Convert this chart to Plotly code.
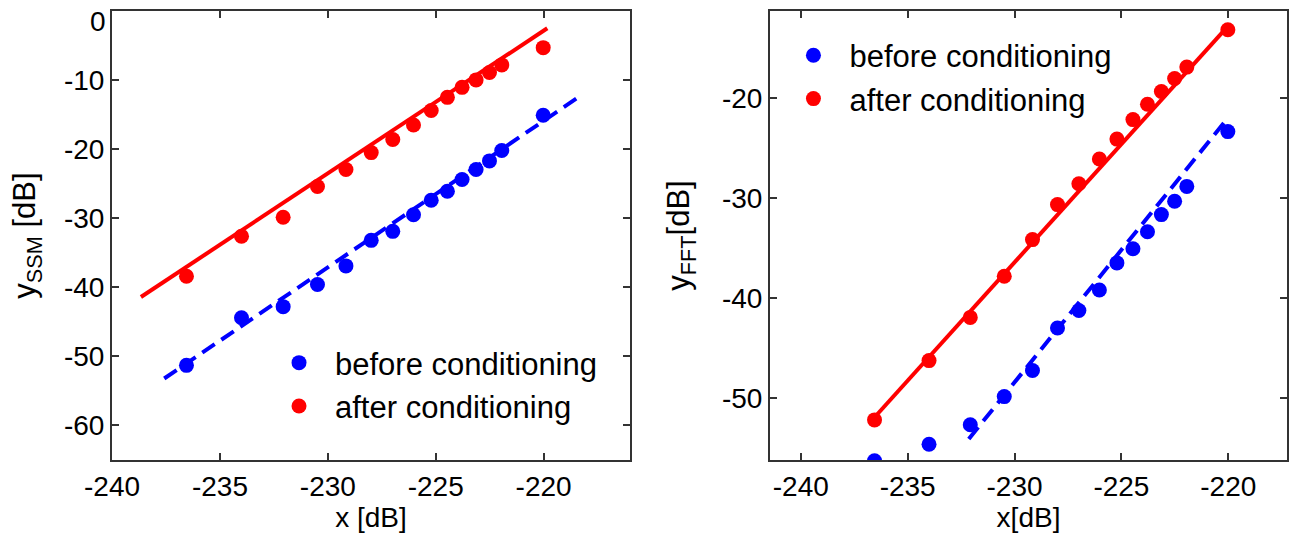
import plotly.graph_objects as go

# ---- data ----
x_db = [-236.55, -234.0, -232.07, -230.48, -229.16, -227.99, -226.99, -226.03,
        -225.21, -224.46, -223.78, -223.13, -222.51, -221.94, -220.02]

ssm_before = [-51.3, -44.4, -42.8, -39.6, -36.9, -33.2, -31.9, -29.5,
              -27.4, -26.1, -24.4, -22.95, -21.7, -20.2, -15.1]
ssm_after = [-38.4, -32.6, -29.85, -25.4, -22.95, -20.5, -18.6, -16.5,
             -14.4, -12.5, -11.05, -9.97, -8.9, -7.8, -5.3]

fft_before = [-56.27, -54.62, -52.67, -49.86, -47.25, -43.0, -41.25, -39.2,
              -36.49, -35.08, -33.37, -31.66, -30.32, -28.84, -23.36]
fft_after = [-52.19, -46.26, -41.94, -37.83, -34.16, -30.66, -28.57, -26.1,
             -24.11, -22.16, -20.62, -19.35, -18.05, -16.91, -13.18]

# fitted lines (end points)
ssm_after_fit_x = [-238.66, -219.83]
ssm_after_fit_y = [-41.4, -2.5]
ssm_before_fit_x = [-237.58, -218.4]
ssm_before_fit_y = [-53.2, -12.5]
fft_after_fit_x = [-236.79, -219.98]
fft_after_fit_y = [-52.5, -12.73]
fft_before_fit_x = [-232.14, -220.08]
fft_before_fit_y = [-54.1, -22.16]

x_ticks = [-240, -235, -230, -225, -220]
ssm_ticks = [0, -10, -20, -30, -40, -50, -60]
fft_ticks = [-20, -30, -40, -50]

labels = ["before conditioning", "after conditioning"]

BLUE = "rgb(0,0,255)"
RED = "rgb(255,0,0)"
FONT = "Liberation Sans, Arial, sans-serif"
TICK_SIZE = 28

fig = go.Figure()

# ---- left panel ----
fig.add_trace(go.Scatter(x=ssm_after_fit_x, y=ssm_after_fit_y, mode="lines",
                         line=dict(color=RED, width=4), showlegend=False,
                         xaxis="x", yaxis="y"))
fig.add_trace(go.Scatter(x=ssm_before_fit_x, y=ssm_before_fit_y, mode="lines",
                         line=dict(color=BLUE, width=4, dash="15px,8px"), showlegend=False,
                         xaxis="x", yaxis="y"))
fig.add_trace(go.Scatter(x=x_db, y=ssm_before, mode="markers", name=labels[0],
                         marker=dict(color=BLUE, size=15), legend="legend",
                         xaxis="x", yaxis="y"))
fig.add_trace(go.Scatter(x=x_db, y=ssm_after, mode="markers", name=labels[1],
                         marker=dict(color=RED, size=15), legend="legend",
                         xaxis="x", yaxis="y"))

# ---- right panel ----
fig.add_trace(go.Scatter(x=fft_after_fit_x, y=fft_after_fit_y, mode="lines",
                         line=dict(color=RED, width=4), showlegend=False,
                         xaxis="x2", yaxis="y2"))
fig.add_trace(go.Scatter(x=fft_before_fit_x, y=fft_before_fit_y, mode="lines",
                         line=dict(color=BLUE, width=4, dash="15px,8px"), showlegend=False,
                         xaxis="x2", yaxis="y2"))
fig.add_trace(go.Scatter(x=x_db, y=fft_before, mode="markers", name=labels[0],
                         marker=dict(color=BLUE, size=15), legend="legend2",
                         xaxis="x2", yaxis="y2"))
fig.add_trace(go.Scatter(x=x_db, y=fft_after, mode="markers", name=labels[1],
                         marker=dict(color=RED, size=15), legend="legend2",
                         xaxis="x2", yaxis="y2"))

axis_common = dict(showline=True, linecolor="#333333", linewidth=2, mirror="ticks",
                   ticks="inside", ticklen=7, tickwidth=1.5, tickcolor="#333333",
                   showgrid=False, zeroline=False, automargin=False,
                   tickfont=dict(family=FONT, size=TICK_SIZE, color="black"))


def tick_text(vals, skip_top=False):
    out = [str(v) for v in vals]
    if skip_top:
        out[0] = ""  # top label drawn separately so it sits inside the page
    return out


xtitle_font = dict(family=FONT, size=28, color="black")
ytitle_font = dict(family=FONT, size=31, color="black")

fig.update_layout(
    width=1304, height=535,
    margin=dict(l=0, r=0, t=0, b=0, autoexpand=False),
    paper_bgcolor="white", plot_bgcolor="white",
    font=dict(family=FONT, color="black"),
    xaxis=dict(domain=[0.0859, 0.4831], range=[-240, -216],
               tickvals=x_ticks, ticktext=tick_text(x_ticks),
               title=dict(text="x [dB]", font=xtitle_font, standoff=0),
               anchor="y", **axis_common),
    yaxis=dict(domain=[0.1402, 0.9794], range=[-65, 0.001],
               tickvals=ssm_ticks, ticktext=tick_text(ssm_ticks, skip_top=True),
               title=dict(text="y<sub>SSM</sub> [dB]", font=ytitle_font, standoff=19),
               anchor="x", **axis_common),
    xaxis2=dict(domain=[0.5905, 0.9870], range=[-241.44, -217.25],
                tickvals=x_ticks, ticktext=tick_text(x_ticks),
                title=dict(text="x[dB]", font=xtitle_font, standoff=0),
                anchor="y2", **axis_common),
    yaxis2=dict(domain=[0.1402, 0.9794], range=[-56.2, -11.3],
                tickvals=fft_ticks, ticktext=tick_text(fft_ticks),
                title=dict(text="y<sub>FFT</sub>[dB]", font=ytitle_font, standoff=23),
                anchor="x2", **axis_common),
    legend=dict(x=0.2017, y=0.372, xanchor="left", yanchor="top", itemwidth=62,
                bgcolor="rgba(0,0,0,0)", font=dict(family=FONT, size=31)),
    legend2=dict(x=0.5962, y=0.9465, xanchor="left", yanchor="top", itemwidth=62,
                 bgcolor="rgba(0,0,0,0)", font=dict(family=FONT, size=31)),
)

# top y tick label of the left panel, aligned below the upper frame edge
fig.add_annotation(x=0, xref="x domain", y=ssm_ticks[0], yref="y",
                   text=str(ssm_ticks[0]), showarrow=False,
                   xanchor="right", yanchor="top", xshift=-4, yshift=7,
                   font=dict(family=FONT, size=TICK_SIZE, color="black"))

fig.write_html("out.html", config={"displayModeBar": False},
               post_script="document.body.style.margin='0';")
